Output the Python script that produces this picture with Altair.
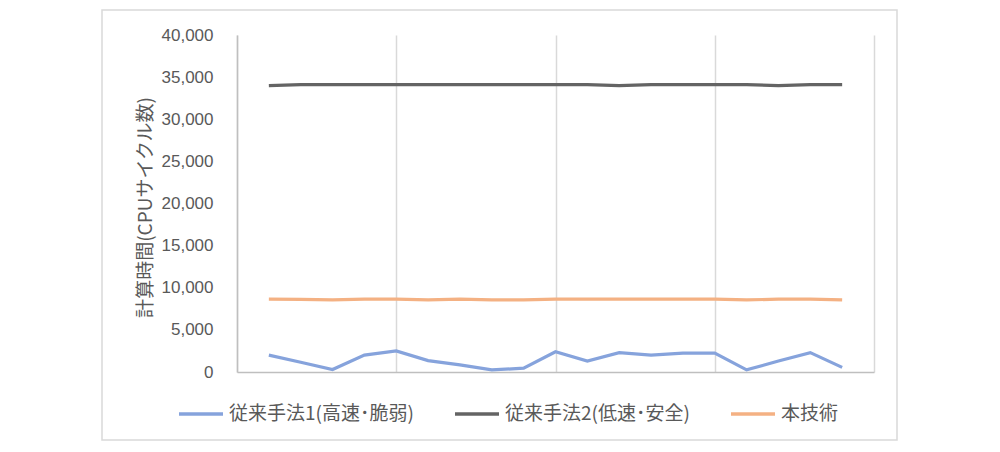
import altair as alt
import pandas as pd

# ---- data ----
x_idx = list(range(1, 20))
series_names = ["従来手法1(高速･脆弱)", "従来手法2(低速･安全)", "本技術"]
method1 = [2000, 1150, 300, 2000, 2500, 1350, 850, 250, 450, 2400,
           1300, 2300, 2000, 2250, 2250, 250, 1300, 2300, 550]
method2 = [34000, 34100, 34100, 34100, 34100, 34100, 34100, 34100, 34100, 34100,
           34100, 34000, 34100, 34100, 34100, 34100, 34000, 34100, 34100]
proposed = [8650, 8620, 8550, 8650, 8660, 8550, 8650, 8550, 8550, 8660,
            8660, 8660, 8660, 8660, 8660, 8550, 8650, 8650, 8550]
series_colors = ["#86a3dc", "#646464", "#f4b183"]
y_ticks = list(range(0, 40001, 5000))
x_grid = [0, 5, 10, 15, 20]

rows = []
for name, vals in zip(series_names, [method1, method2, proposed]):
    for xi, v in zip(x_idx, vals):
        rows.append({"x": xi, "value": v, "series": name})
df = pd.DataFrame(rows)

cjk = "Noto Sans CJK JP"
txt_color = "#595959"

frame = alt.Chart(pd.DataFrame({"a": [0]})).mark_rect(
    fill="transparent", stroke="#d9d9d9", strokeWidth=1.5
).encode(
    x=alt.value(-135), x2=alt.value(660), y=alt.value(-25), y2=alt.value(405)
)

lines = alt.Chart(df).mark_line(strokeWidth=3.2).encode(
    x=alt.X("x:Q",
            scale=alt.Scale(domain=[0, 20], nice=False),
            axis=alt.Axis(values=x_grid, labels=False, ticks=False, title=None,
                          grid=True, gridColor="#d9d9d9", gridWidth=1.5,
                          domainColor="#bfbfbf", domainWidth=1.5)),
    y=alt.Y("value:Q",
            scale=alt.Scale(domain=[0, 40000], nice=False),
            axis=alt.Axis(values=y_ticks, format=",.0f", grid=False, ticks=False,
                          domainColor="#bfbfbf", domainWidth=1.5,
                          labelFont="Liberation Sans", labelFontSize=17,
                          labelColor=txt_color, labelPadding=24,
                          title="計算時間(CPUサイクル数)", titleFont=cjk,
                          titleFontSize=19, titleFontWeight="normal",
                          titleColor=txt_color, titleX=-92, titleY=172,
                          titleAlign="center", titleBaseline="middle")),
    color=alt.Color("series:N",
                    scale=alt.Scale(domain=series_names, range=series_colors),
                    legend=alt.Legend(orient="none", legendX=-60, legendY=355,
                                      direction="horizontal", title=None,
                                      symbolType="stroke", symbolSize=1936,
                                      symbolStrokeWidth=3.5,
                                      labelFont=cjk, labelFontSize=19,
                                      labelColor=txt_color, labelLimit=0,
                                      columnPadding=34, labelOffset=4)),
    order=alt.Order("x:Q"),
)

chart = alt.layer(frame, lines).properties(
    width=637, height=337,
    autosize=alt.AutoSizeParams(type="none"),
    padding={"left": 229, "top": 27, "right": 110, "bottom": 70},
    background="white",
).configure_view(stroke=None)

chart.save("out.html", embed_options={"renderer": "svg", "actions": False})
